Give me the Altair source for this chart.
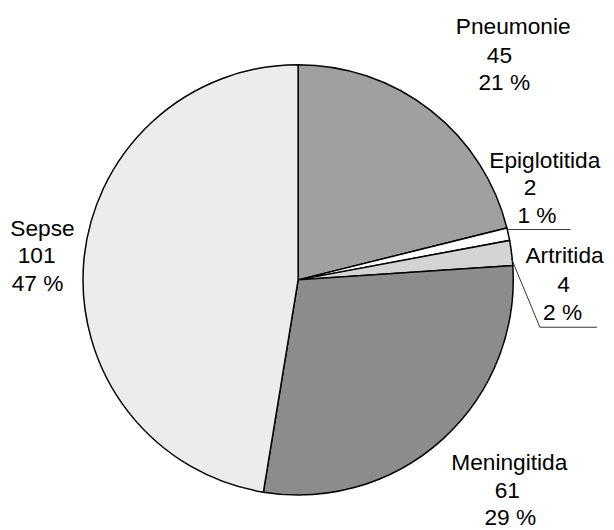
import altair as alt
import pandas as pd

# ---- data ----
categories = ["Pneumonie", "Epiglotitida", "Artritida", "Meningitida", "Sepse"]
counts = [45, 2, 4, 61, 101]
fill_colors = ["#a0a0a0", "#ffffff", "#d4d4d4", "#8c8c8c", "#ececec"]

total = sum(counts)
percents = [round(100 * c / total) for c in counts]

# ---- layout (page pixel positions) ----
MARGIN = 8
PIE_CX, PIE_CY, PIE_R = 302, 280, 218
W, H = 606, 522
FONT = "Liberation Sans"
FONT_SIZE = 23

label_xy = {
    "Pneumonie": [(520, 23.5), (506, 53), (511, 80.5)],
    "Epiglotitida": [(552, 160), (537, 187.5), (544, 215.5)],
    "Artritida": [(572, 256), (571, 285.5), (570, 313.5)],
    "Meningitida": [(516, 466), (514, 494), (517, 521.5)],
    "Sepse": [(43, 228.7), (37, 256), (38, 284.5)],
}
leader_xy = {
    "Epiglotitida": [(515, 229), (578, 229)],
    "Artritida": [(518, 258), (547, 328), (605, 328)],
}

pie_df = pd.DataFrame({
    "category": categories,
    "count": counts,
    "order": list(range(len(categories))),
})

rows = []
for cat, cnt, pct in zip(categories, counts, percents):
    texts = [cat, str(cnt), f"{pct} %"]
    for (px, py), t in zip(label_xy[cat], texts):
        rows.append({"text": t, "px": px - MARGIN, "py": py - MARGIN})
text_df = pd.DataFrame(rows)

lrows = []
for cat, pts in leader_xy.items():
    for i, (px, py) in enumerate(pts):
        lrows.append({"category": cat, "seq": i, "px": px - MARGIN, "py": py - MARGIN})
leader_df = pd.DataFrame(lrows)

pie = alt.Chart(pie_df).mark_arc(
    outerRadius=PIE_R, stroke="black", strokeWidth=1.5
).encode(
    theta=alt.Theta("count:Q", stack=True),
    order=alt.Order("order:Q"),
    color=alt.Color("category:N",
                    scale=alt.Scale(domain=categories, range=fill_colors),
                    legend=None),
    x=alt.value(PIE_CX - MARGIN),
    y=alt.value(PIE_CY - MARGIN),
)

leaders = alt.Chart(leader_df).mark_line(color="#333333", strokeWidth=1).encode(
    x=alt.X("px:Q", scale=None),
    y=alt.Y("py:Q", scale=None),
    detail="category:N",
    order="seq:Q",
)

labels = alt.Chart(text_df).mark_text(
    font=FONT, fontSize=FONT_SIZE, align="center", baseline="middle", color="black"
).encode(
    x=alt.X("px:Q", scale=None),
    y=alt.Y("py:Q", scale=None),
    text="text:N",
)

chart = alt.layer(pie, leaders, labels).properties(
    width=W, height=H, padding=0,
    autosize=alt.AutoSizeParams(type="none"),
).configure_view(stroke=None)

chart.save("out.html", embed_options={"renderer": "svg", "actions": False})
